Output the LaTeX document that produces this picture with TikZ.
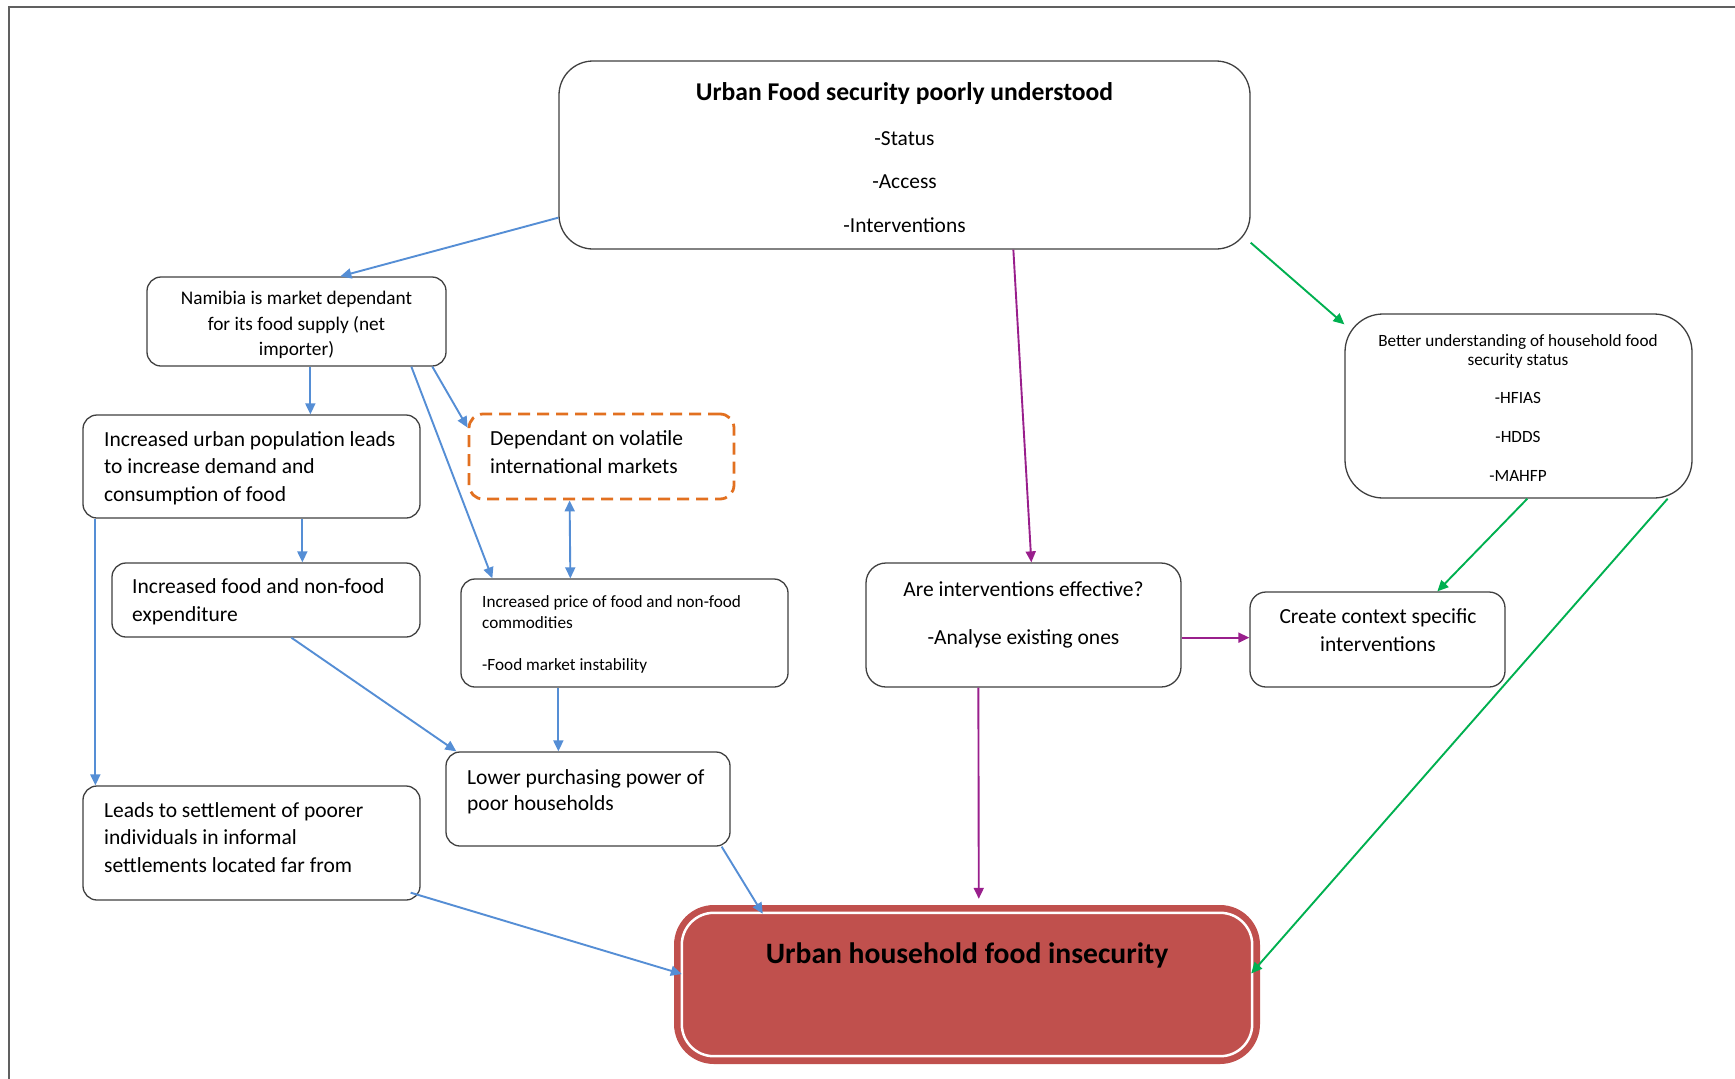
\documentclass[tikz,border=0pt]{standalone}
\usepackage{fontspec}
\setmainfont{Carlito}
\usetikzlibrary{arrows.meta,calc}

\definecolor{flowblue}{RGB}{85,142,213}
\definecolor{flowpurple}{RGB}{153,31,140}
\definecolor{flowgreen}{RGB}{0,176,80}
\definecolor{dashorange}{RGB}{226,112,32}
\definecolor{insecred}{RGB}{192,80,77}
\definecolor{boxgray}{RGB}{64,64,64}
\definecolor{framegray}{RGB}{96,96,96}

\newcommand{\fsz}[2]{\fontsize{#1}{#2}\selectfont}

\tikzset{
  box/.style={draw=boxgray, line width=1.3pt, rounded corners=14pt, inner sep=0pt},
  dashbox/.style={draw=dashorange, line width=2.8pt, dash pattern=on 12pt off 7pt,
                  rounded corners=14pt, inner sep=0pt},
  txt/.style={inner sep=0pt, text=black},
  tip/.tip={Triangle[length=11pt,width=10pt]},
  link/.style={line width=1.9pt, -tip},
  bluelink/.style={link, draw=flowblue, flowblue},
  purplelink/.style={link, draw=flowpurple, flowpurple},
  greenlink/.style={link, draw=flowgreen, flowgreen},
}

\begin{document}
\begin{tikzpicture}[x=1pt,y=-1pt]
\useasboundingbox (0,0) rectangle (1735,1079);
\fill[white] (0,0) rectangle (1735,1079);

% page frame
\draw[framegray, line width=1.5pt] (9,1079) -- (9,7) -- (1735,7);

% ---------- boxes ----------
\node[box, rounded corners=34pt, minimum width=691pt, minimum height=188pt] (top) at (904.5,155) {};
\node[box, minimum width=299pt, minimum height=89pt] (nam) at (296.5,321.5) {};
\node[box, minimum width=337pt, minimum height=103pt] (urb) at (251.5,466.5) {};
\node[dashbox, minimum width=265pt, minimum height=85pt] (dep) at (601.5,456.5) {};
\node[box, minimum width=308pt, minimum height=74pt] (exp) at (266,600) {};
\node[box, minimum width=327pt, minimum height=108pt] (price) at (624.5,633) {};
\node[box, minimum width=337pt, minimum height=114pt] (set) at (251.5,843) {};
\node[box, minimum width=284pt, minimum height=94pt] (low) at (588,799) {};
\node[box, rounded corners=20pt, minimum width=315pt, minimum height=124pt] (eff) at (1023.5,625) {};
\node[box, rounded corners=16pt, minimum width=255pt, minimum height=95pt] (ctx) at (1377.5,639.5) {};
\node[box, rounded corners=38pt, minimum width=347pt, minimum height=184pt] (bet) at (1518.5,406) {};

% outcome box: red fill with an inset white rule
\node[fill=insecred, rounded corners=40pt, minimum width=586pt, minimum height=159pt, inner sep=0pt] (red) at (967,984.5) {};
\draw[white, line width=2.5pt, rounded corners=32pt]
  ($(red.south west)+(8,-8)$) rectangle ($(red.north east)+(-8,8)$);

% ---------- texts ----------
\begin{scope}[yshift=-2.2pt]
\node[txt, font=\bfseries\fsz{25.6}{30}, anchor=base] (topT) at (904.5,98) {Urban Food security poorly understood};
\node[txt, font=\fsz{21.4}{43.5}, align=center, anchor=north] (topL) at (904.5,112.5)
  {\strut-Status\\-Access\\-Interventions};

\node[txt, font=\fsz{19.3}{25.5}, align=center, anchor=north] (namT) at (296.5,284.5)
  {\strut Namibia is market dependant\\for its food supply (net\\importer)};

\node[txt, font=\fsz{21.5}{27.5}, align=left, anchor=north west] (urbT) at (104,424.75)
  {\strut Increased urban population leads\\to increase demand and\\consumption of food};

\node[txt, font=\fsz{21.5}{28}, align=left, anchor=north west] (depT) at (490,423.4)
  {\strut Dependant on volatile\\international markets};

\node[txt, font=\fsz{21.5}{28}, align=left, anchor=north west] (expT) at (132,571.4)
  {\strut Increased food and non-food\\expenditure};

\node[txt, font=\fsz{17.2}{21}, align=left, anchor=north west] (priceT) at (482,590.3)
  {\strut Increased price of food and non-food\\commodities\\[21pt]-Food market instability};

\node[txt, font=\fsz{21.5}{27.5}, align=left, anchor=north west] (setT) at (104,795.75)
  {\strut Leads to settlement of poorer\\individuals in informal\\settlements located far from};

\node[txt, font=\fsz{21.5}{26.5}, align=left, anchor=north west] (lowT) at (467,763.5)
  {\strut Lower purchasing power of\\poor households};

\node[txt, font=\fsz{21.5}{47.6}, align=center, anchor=north] (effT) at (1023.5,560.7)
  {\strut Are interventions effective?\\-Analyse existing ones};

\node[txt, font=\fsz{21.5}{28}, align=center, anchor=north] (ctxT) at (1378,601.4)
  {\strut Create context specific\\interventions};

\node[txt, font=\fsz{17.2}{19}, align=center, anchor=north] (betT) at (1518,330.7)
  {\strut Better understanding of household food\\security status};
\node[txt, font=\fsz{17.2}{39}, align=center, anchor=north] (betL) at (1518,373.7)
  {\strut-HFIAS\\-HDDS\\-MAHFP};

\node[txt, font=\bfseries\fsz{29.6}{34}, anchor=base] (redT) at (967,961) {Urban household food insecurity};
\end{scope}

% ---------- connectors: blue ----------
\draw[bluelink] ($(top.south west)+(0,-32)$) -- ($(nam.north west)+(194,0)$);
\draw[bluelink] ($(nam.south west)+(164,0)$) -- ($(urb.north west)+(228,0)$);
\draw[bluelink] ($(nam.south west)+(286,0)$) -- ($(dep.north west)+(0,15)$);
\draw[bluelink] ($(nam.south west)+(265,0)$) -- ($(price.north west)+(32,0)$);
\draw[bluelink, tip-tip]
  ($(dep.south west)+(102,0)$) -- ($(price.north west)+(110,0)$);
\draw[bluelink] ($(urb.south west)+(220,0)$) -- ($(exp.north west)+(191,0)$);
\draw[bluelink] ($(urb.south west)+(13,0)$) -- ($(set.north west)+(13,0)$);
\draw[bluelink] ($(exp.south west)+(180,0)$) -- ($(low.north west)+(11,0)$);
\draw[bluelink] ($(price.south west)+(98,0)$) -- ($(low.north west)+(113,0)$);
\draw[bluelink] ($(low.south east)+(-9,0)$) -- ($(red.north west)+(89,9)$);
\draw[bluelink] ($(set.south east)+(-10,-8)$) -- ($(red.west)+(8,-10.5)$);

% ---------- connectors: purple ----------
\draw[purplelink] ($(top.south west)+(455,0)$) -- ($(eff.north west)+(166,0)$);
\coordinate (effR) at ($(eff.south east)+(0,-50)$);
\draw[purplelink] (effR) -- (effR -| ctx.west);
\draw[purplelink] ($(eff.south west)+(113,0)$) -- ($(red.north west)+(305,-6)$);

% ---------- connectors: green ----------
\draw[greenlink] ($(top.south east)+(0,-7)$) -- ($(bet.north west)+(0,11)$);
\draw[greenlink] ($(bet.south west)+(183,0)$) -- ($(ctx.north west)+(188,0)$);
\draw[greenlink] ($(bet.south east)+(-25,0)$) -- ($(red.east)+(-9,-11)$);

\end{tikzpicture}
\end{document}
